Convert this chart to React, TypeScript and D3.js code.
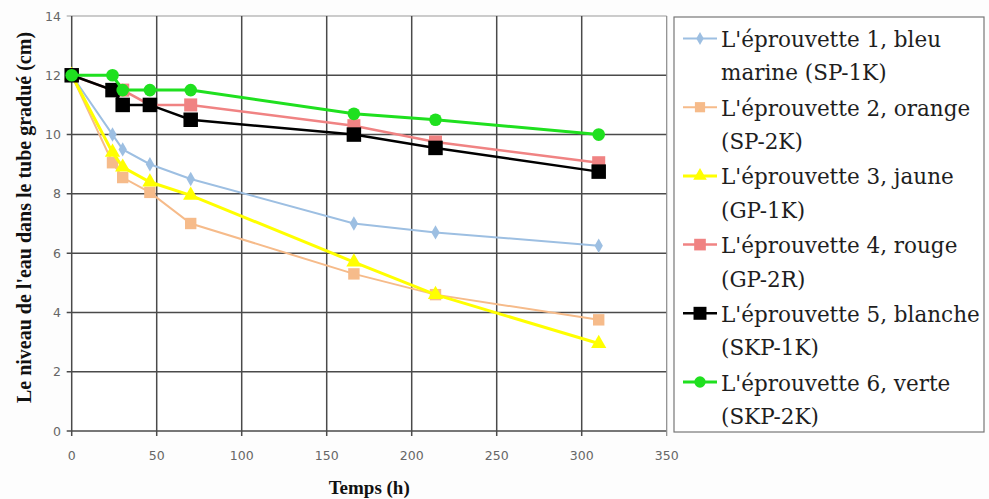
import React from "react";
import * as d3 from "d3";

const hours = [0, 24, 30, 46, 70, 166, 214, 310];
const s1Blue = [12, 10, 9.5, 9, 8.5, 7, 6.7, 6.25];
const s2Orange = [12, 9.05, 8.55, 8.05, 7, 5.3, 4.6, 3.75];
const s3Yellow = [12, 9.4, 8.9, 8.4, 7.95, 5.7, 4.6, 2.95];
const s4Red = [12, 11.5, 11.5, 11, 11, 10.3, 9.75, 9.05];
const s5Black = [12, 11.5, 11, 11, 10.5, 10, 9.55, 8.75];
const s6Green = [12, 12, 11.5, 11.5, 11.5, 10.7, 10.5, 10];

const legendLines = [
  ["L'éprouvette 1, bleu", "marine (SP-1K)"],
  ["L'éprouvette 2, orange", "(SP-2K)"],
  ["L'éprouvette 3, jaune", "(GP-1K)"],
  ["L'éprouvette 4, rouge", "(GP-2R)"],
  ["L'éprouvette 5, blanche", "(SKP-1K)"],
  ["L'éprouvette 6, verte", "(SKP-2K)"],
];

const xTicks = [0, 50, 100, 150, 200, 250, 300, 350];
const yTicks = [0, 2, 4, 6, 8, 10, 12, 14];

const SERIF = "'Liberation Serif', 'Times New Roman', Times, 'DejaVu Serif', serif";

type Series = { values: number[]; color: string; width: number; symbol: d3.SymbolType; size: number; };
const series: Series[] = [
  { values: s1Blue, color: "#9dbfe2", width: 2, symbol: d3.symbolDiamond, size: 60 },
  { values: s2Orange, color: "#f6bb8a", width: 2, symbol: d3.symbolSquare, size: 130 },
  { values: s3Yellow, color: "#ffff00", width: 3, symbol: d3.symbolTriangle, size: 100 },
  { values: s4Red, color: "#f08383", width: 2.5, symbol: d3.symbolSquare, size: 170 },
  { values: s5Black, color: "#000000", width: 2.5, symbol: d3.symbolSquare, size: 210 },
  { values: s6Green, color: "#1fe01f", width: 3, symbol: d3.symbolCircle, size: 125 },
];

export default function App() {
  const W = 989, H = 499;
  const x = d3.scaleLinear().domain([0, 350]).range([71.7, 666.7]);
  const y = d3.scaleLinear().domain([0, 14]).range([431, 16]);
  const line = d3.line<number>().x((_, i) => x(hours[i])).y((v) => y(v));

  return (
    <svg width={W} height={H} style={{ position: "absolute", left: 0, top: 0, background: "#fdfdfd" }}>
      <rect x={x(0)} y={y(14)} width={x(350) - x(0)} height={y(0) - y(14)} fill="#ffffff" />
      {yTicks.map((t) => (
        <g key={"y" + t}>
          <line x1={x(0) - 5} x2={x(350)} y1={y(t)} y2={y(t)} stroke={t === 14 ? "#9a9a9a" : "#4a4a4a"} strokeWidth={t === 14 ? 1.2 : 1.5} />
          <text x={61} y={y(t)} dy="0.36em" textAnchor="end" fontFamily="DejaVu Sans" fontSize={12.5} fill="#666">{t}</text>
        </g>
      ))}
      {xTicks.map((t) => (
        <g key={"x" + t}>
          <line x1={x(t)} x2={x(t)} y1={y(14)} y2={y(0) + 5} stroke={t === 350 ? "#8a8a8a" : "#4a4a4a"} strokeWidth={t === 350 ? 1.2 : 1.5} />
          <text x={x(t)} y={460} textAnchor="middle" fontFamily="DejaVu Sans" fontSize={12.5} fill="#666">{t}</text>
        </g>
      ))}
      {series.map((s, k) => (
        <g key={"s" + k}>
          <path d={line(s.values) || ""} fill="none" stroke={s.color} strokeWidth={s.width} />
          {s.values.map((v, i) => (
            <path key={i} d={d3.symbol().type(s.symbol).size(s.size)() || ""} transform={`translate(${x(hours[i])},${y(v)})`} fill={s.color} />
          ))}
        </g>
      ))}
      <text x={(x(0) + x(350)) / 2} y={494} textAnchor="middle" fontFamily={SERIF} fontWeight="bold" fontSize={19} fill="#111">Temps (h)</text>
      <text transform={`translate(31,${(y(0) + y(14)) / 2 - 6}) rotate(-90)`} textAnchor="middle" fontFamily={SERIF} fontWeight="bold" fontSize={20} fill="#111">
        Le niveau de l'eau dans le tube gradué (cm)
      </text>
      <rect x={674} y={17} width={310} height={415} fill="#ffffff" stroke="#777" strokeWidth={1.2} />
      {legendLines.map((ls, k) => {
        const cy = 38.5 + k * 68.7;
        const s = series[k];
        return (
          <g key={"l" + k}>
            <line x1={683} x2={717} y1={cy} y2={cy} stroke={s.color} strokeWidth={s.width} />
            <path d={d3.symbol().type(s.symbol).size(s.size * 0.8)() || ""} transform={`translate(700,${cy})`} fill={s.color} />
            <text x={721} y={cy + 8.5} fontFamily="DejaVu Serif" fontSize={21.5} fill="#1e1e1e">{ls[0]}</text>
            <text x={721} y={cy + 8.5 + 33.4} fontFamily="DejaVu Serif" fontSize={21.5} fill="#1e1e1e">{ls[1]}</text>
          </g>
        );
      })}
    </svg>
  );
}
